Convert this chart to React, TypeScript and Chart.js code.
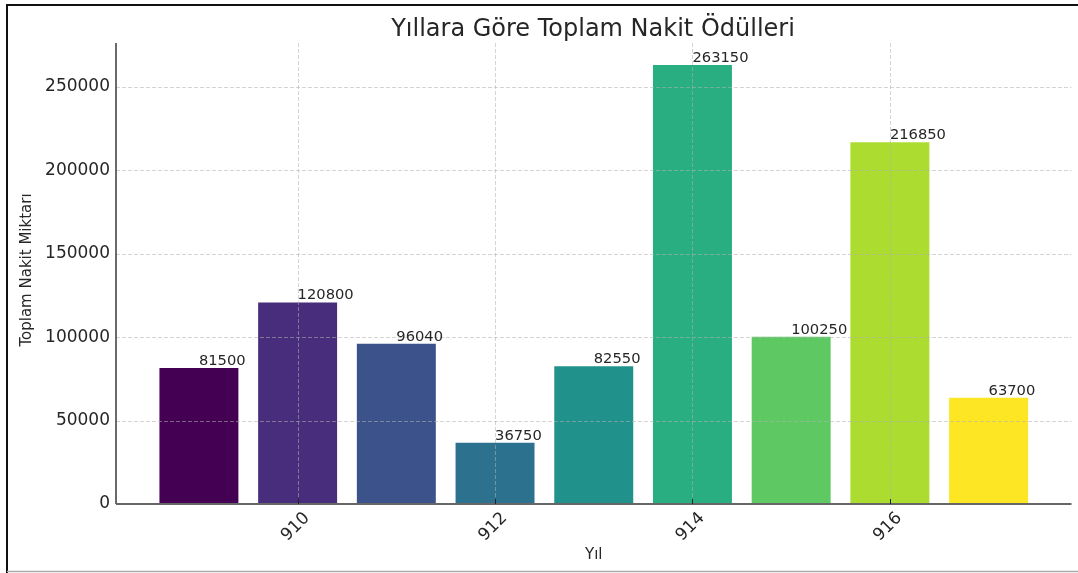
import React, { useEffect, useRef } from "react";
import { Chart, registerables } from "chart.js";

Chart.register(...registerables);

const years = [909, 910, 911, 912, 913, 914, 915, 916, 917];
const totals = [81500, 120800, 96040, 36750, 82550, 263150, 100250, 216850, 63700];
const barColors = [
  "#440154", "#472d7b", "#3b528b", "#2c728e", "#21918c",
  "#28ae80", "#5ec962", "#addc30", "#fde725",
];
const xTickLabels = [910, 912, 914, 916];
const yTicks = [0, 50000, 100000, 150000, 200000, 250000];
const titleText = "Yıllara Göre Toplam Nakit Ödülleri";
const xLabel = "Yıl";
const yLabel = "Toplam Nakit Miktarı";

const FONT = "'DejaVu Sans', sans-serif";
const TXT = "#262626";

export default function App() {
  const ref = useRef<HTMLCanvasElement | null>(null);

  useEffect(() => {
    if (!ref.current) return;
    const yMax = Math.max(...totals) * 1.05;

    const decor = {
      id: "decor",
      afterDatasetsDraw(chart: any) {
        const ctx = chart.ctx;
        const a = chart.chartArea;
        const xs = chart.scales.x;
        const ys = chart.scales.y;
        ctx.save();
        // grid (drawn over bars, like the reference)
        ctx.strokeStyle = "rgba(176,176,176,0.55)";
        ctx.lineWidth = 1;
        ctx.setLineDash([4, 2]);
        for (const v of yTicks) {
          if (v === 0) continue;
          const y = Math.round(ys.getPixelForValue(v)) + 0.5;
          ctx.beginPath();
          ctx.moveTo(a.left, y);
          ctx.lineTo(a.right, y);
          ctx.stroke();
        }
        for (const v of xTickLabels) {
          const x = Math.round(xs.getPixelForValue(v)) + 0.5;
          ctx.beginPath();
          ctx.moveTo(x, a.top);
          ctx.lineTo(x, a.bottom);
          ctx.stroke();
        }
        ctx.setLineDash([]);
        // spines
        ctx.strokeStyle = "#3a3a3a";
        ctx.lineWidth = 1.5;
        ctx.beginPath();
        ctx.moveTo(a.left, a.top);
        ctx.lineTo(a.left, a.bottom);
        ctx.stroke();
        ctx.strokeStyle = "#666666";
        ctx.lineWidth = 2;
        ctx.beginPath();
        ctx.moveTo(a.left, a.bottom);
        ctx.lineTo(a.right, a.bottom);
        ctx.stroke();
        // x tick marks
        ctx.strokeStyle = "#222";
        ctx.lineWidth = 1;
        for (const v of xTickLabels) {
          const x = Math.round(xs.getPixelForValue(v)) + 0.5;
          ctx.beginPath();
          ctx.moveTo(x, a.bottom - 5);
          ctx.lineTo(x, a.bottom);
          ctx.stroke();
        }
        // bar value labels
        ctx.fillStyle = TXT;
        ctx.font = `14.7px ${FONT}`;
        ctx.textAlign = "left";
        ctx.textBaseline = "alphabetic";
        years.forEach((yr, i) => {
          const x = xs.getPixelForValue(yr);
          const y = ys.getPixelForValue(totals[i]);
          ctx.fillText(String(totals[i]), x, y - 3);
        });
        // x tick labels rotated 45 around their center
        ctx.font = `17px ${FONT}`;
        ctx.textAlign = "center";
        ctx.textBaseline = "middle";
        for (const v of xTickLabels) {
          const x = xs.getPixelForValue(v);
          ctx.save();
          ctx.translate(x - 2, a.bottom + 23);
          ctx.rotate(-Math.PI / 4);
          ctx.fillText(String(v), 0, 0);
          ctx.restore();
        }
        // title
        ctx.font = `24px ${FONT}`;
        ctx.textBaseline = "alphabetic";
        ctx.fillText(titleText, 593, 36);
        // axis labels
        ctx.font = `15px ${FONT}`;
        ctx.fillText(xLabel, (a.left + a.right) / 2, 559);
        ctx.save();
        ctx.translate(31, 270);
        ctx.rotate(-Math.PI / 2);
        ctx.fillText(yLabel, 0, 0);
        ctx.restore();
        // frame
        ctx.strokeStyle = "#111";
        ctx.lineWidth = 2;
        ctx.beginPath();
        ctx.moveTo(7, 573);
        ctx.lineTo(7, 5);
        ctx.lineTo(1078, 5);
        ctx.stroke();
        ctx.strokeStyle = "#aaaaaa";
        ctx.lineWidth = 1.5;
        ctx.beginPath();
        ctx.moveTo(7, 571.5);
        ctx.lineTo(1078, 571.5);
        ctx.stroke();
        ctx.restore();
      },
    };

    const chart = new Chart(ref.current, {
      type: "bar",
      data: {
        datasets: [
          {
            data: years.map((y, i) => ({ x: y, y: totals[i] })),
            backgroundColor: barColors,
            borderWidth: 0,
            barPercentage: 0.8,
            categoryPercentage: 1,
          },
        ],
      },
      options: {
        animation: false,
        responsive: false,
        devicePixelRatio: 1,
        layout: { padding: { top: 43, right: 6.5, left: 0, bottom: 0 } },
        plugins: {
          legend: { display: false },
          title: { display: false },
          tooltip: { enabled: false },
        },
        scales: {
          x: {
            type: "linear",
            offset: false,
            min: 908.16,
            max: 917.84,
            afterBuildTicks(scale: any) {
              scale.ticks = years.map((v) => ({ value: v }));
            },
            ticks: { display: false },
            grid: { display: false, drawTicks: false, offset: false },
            border: { display: false },
            afterFit(scale: any) {
              scale.height = 69;
            },
          },
          y: {
            min: 0,
            max: yMax,
            afterBuildTicks(scale: any) {
              scale.ticks = yTicks.map((v) => ({ value: v }));
            },
            ticks: {
              color: TXT,
              font: { family: FONT, size: 17 },
              padding: 6,
              callback: (v: any) => String(v),
            },
            grid: { display: false, drawTicks: false },
            border: { display: false },
            afterFit(scale: any) {
              scale.width = 116;
            },
          },
        },
      },
      plugins: [decor],
    });
    return () => chart.destroy();
  }, []);

  return (
    <div style={{ position: "absolute", left: 0, top: 0, width: 1078, height: 573, background: "#fff" }}>
      <canvas ref={ref} width={1078} height={573} style={{ display: "block" }} />
    </div>
  );
}
